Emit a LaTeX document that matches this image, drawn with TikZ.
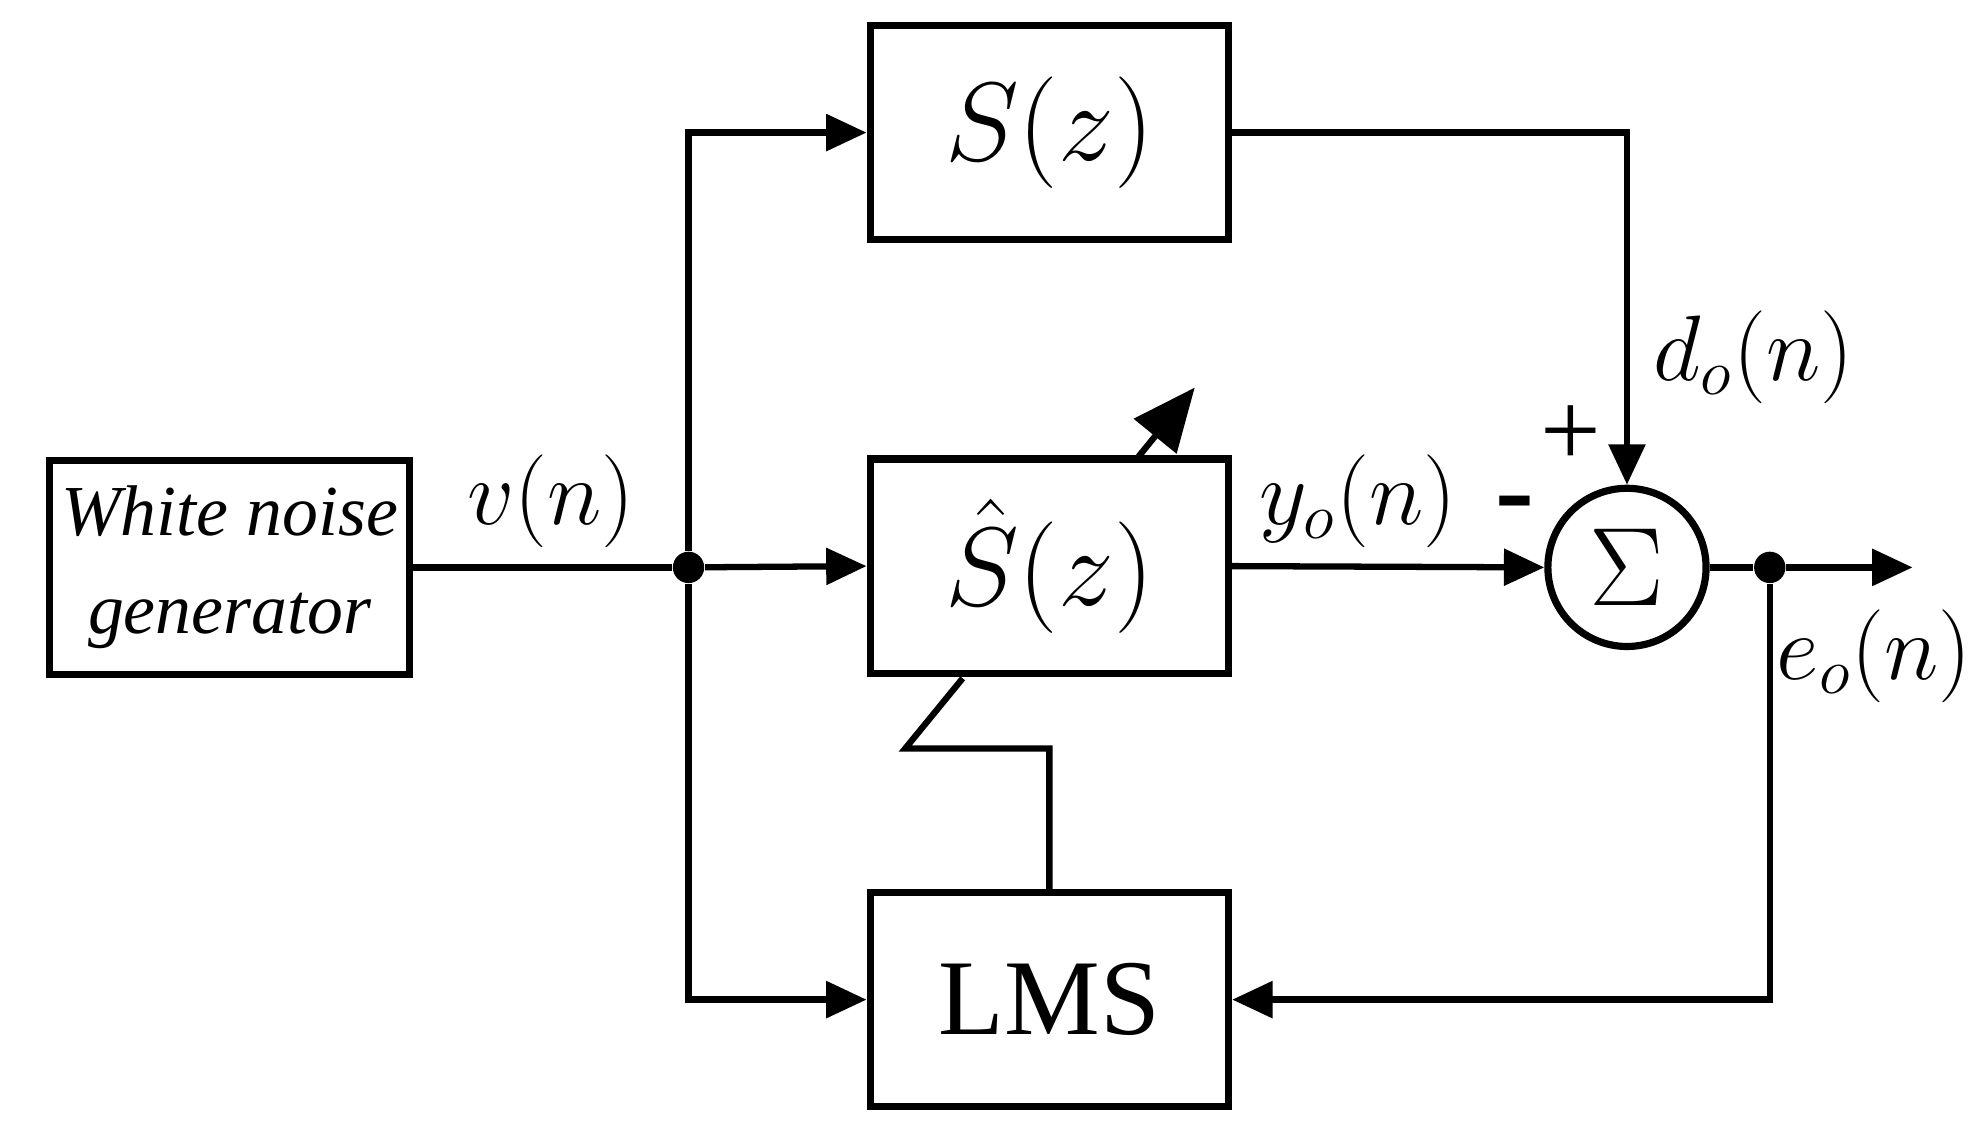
\documentclass[tikz,border=0pt]{standalone}
\usepackage{fontspec}
\setmainfont{Liberation Serif}
\usetikzlibrary{arrows.meta}
\begin{document}
\begin{tikzpicture}[x=0.01cm,y=-0.01cm,
  blk/.style={draw,line width=1.6pt,minimum width=2.81cm,minimum height=1.68cm,inner sep=0pt},
  ln/.style={line width=1.4pt},
  ar/.style={ln,-{Triangle[length=9pt,width=8pt]}},
  dot/.style={circle,fill,inner sep=0pt,minimum size=7pt},
  lab/.style={font=\fontsize{22}{26}\selectfont}]
\useasboundingbox (0,0) rectangle (1556,880);
\node[blk,minimum width=2.82cm] (wn) at (180,445) {};
\node[align=center,font=\fontsize{16}{22}\selectfont\itshape] (wnt) at (180,445) {White noise\\generator};
\node[blk] (s) at (823,104) {\fontsize{23}{28}\selectfont $S(z)$};
\node[blk] (sh) at (823,444) {\fontsize{23}{28}\selectfont $\hat{S}(z)$};
\node[blk] (lms) at (823,784) {\fontsize{24}{28}\selectfont LMS};
\node[draw,circle,line width=1.6pt,minimum size=1.24cm,inner sep=0pt] (sum) at (1276,445) {\fontsize{30}{32}\selectfont $\Sigma$};
\node[dot] (j1) at (540,445) {};
\node[dot] (j2) at (1388,445) {};
\coordinate (out) at (1500,445);
\draw[ln] (wn.east) -- (j1);
\draw[ar] (j1) -- (sh.west);
\draw[ar] (j1) |- (s.west);
\draw[ar] (j1) |- (lms.west);
\draw[ar] (s.east) -| (sum.north);
\draw[ar] (sh.east) -- (sum.west);
\draw[ln] (sum.east) -- (j2);
\draw[ar] (j2) -- (out);
\draw[ar] (j2) |- (lms.east);
\coordinate (c1) at (823,587);
\coordinate (c2) at (710,587);
\coordinate (c3) at (755,532);
\draw[ln] (lms.north) -- (c1) -- (c2) -- (c3);
\coordinate (a1) at (893,358);
\coordinate (a2) at (937,304);
\draw[ln,-{Triangle[length=14pt,width=12pt]}] (a1) -- (a2);
\node[lab] (v) at (432,393) {$v(n)$};
\node[lab] (y) at (1065,393) {$y_o(n)$};
\node[lab] (d) at (1375,280) {$d_o(n)$};
\node[lab] (e) at (1470,515) {$e_o(n)$};
\node[font=\fontsize{24}{28}\selectfont] (p) at (1232,342) {+};
\node[font=\fontsize{26}{28}\selectfont\bfseries] (m) at (1188,402) {-};
\end{tikzpicture}
\end{document}
